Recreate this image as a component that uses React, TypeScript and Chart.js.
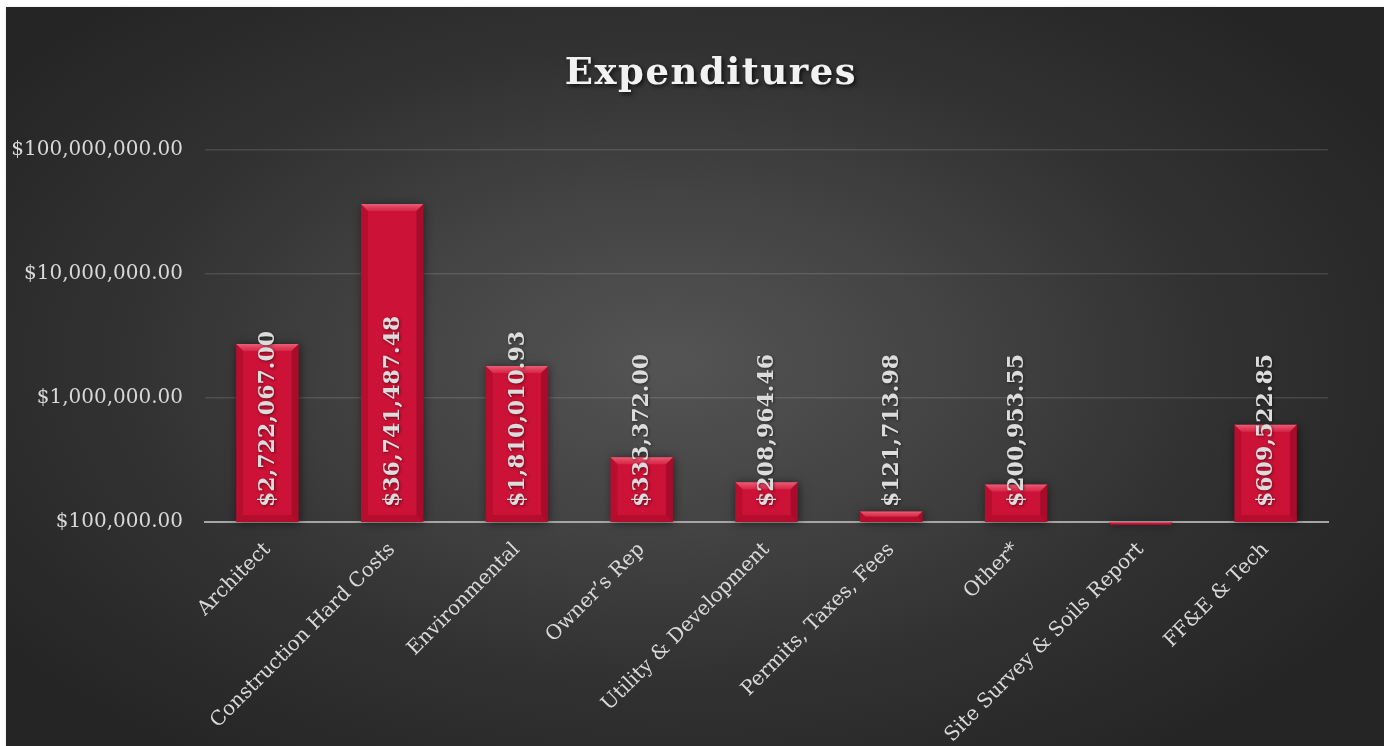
import React, { useEffect, useRef } from "react";
import { Chart, registerables } from "chart.js";

Chart.register(...registerables);

const categories = [
  "Architect",
  "Construction Hard Costs",
  "Environmental",
  "Owner’s Rep",
  "Utility & Development",
  "Permits, Taxes, Fees",
  "Other*",
  "Site Survey & Soils Report",
  "FF&E & Tech",
];
const expenditures = [
  2722067.0, 36741487.48, 1810010.93, 333372.0, 208964.46, 121713.98,
  200953.55, 95000, 609522.85,
];
const yTicks = [100000, 1000000, 10000000, 100000000];
const chartTitle = "Expenditures";

const W = 1378;
const H = 739;
const FONT = "'DejaVu Serif', serif";

const money = (v: number) =>
  "$" +
  v.toLocaleString("en-US", {
    minimumFractionDigits: 2,
    maximumFractionDigits: 2,
  });

const shadowPlugin = {
  id: "barShadow",
  beforeDatasetsDraw(chart: any) {
    const ctx = chart.ctx;
    ctx.save();
    ctx.shadowColor = "rgba(0,0,0,0.55)";
    ctx.shadowBlur = 9;
    ctx.shadowOffsetX = 1;
    ctx.shadowOffsetY = 1;
  },
  afterDatasetsDraw(chart: any) {
    chart.ctx.restore();
  },
};

const bevelPlugin = {
  id: "bevelAndLabels",
  afterDatasetsDraw(chart: any) {
    const ctx = chart.ctx;
    const meta = chart.getDatasetMeta(0);
    const yScale = chart.scales.y;
    const ds = chart.data.datasets[0].data as number[];
    meta.data.forEach((el: any, i: number) => {
      const p = el.getProps(["x", "y", "base", "width"], true);
      const l = p.x - p.width / 2;
      const r = p.x + p.width / 2;
      const t = Math.min(p.y, p.base);
      const b = Math.max(p.y, p.base);
      const h = b - t;
      const bv = Math.min(7, h / 2);
      ctx.save();
      // top bevel
      const g = ctx.createLinearGradient(0, t, 0, t + bv);
      g.addColorStop(0, "rgba(245,120,140,0.75)");
      g.addColorStop(1, "rgba(235,80,105,0.35)");
      ctx.beginPath();
      ctx.moveTo(l, t);
      ctx.lineTo(r, t);
      ctx.lineTo(r - bv, t + bv);
      ctx.lineTo(l + bv, t + bv);
      ctx.closePath();
      ctx.fillStyle = g;
      ctx.fill();
      // bottom bevel
      ctx.beginPath();
      ctx.moveTo(l, b);
      ctx.lineTo(r, b);
      ctx.lineTo(r - bv, b - bv);
      ctx.lineTo(l + bv, b - bv);
      ctx.closePath();
      ctx.fillStyle = "rgba(120,0,20,0.25)";
      ctx.fill();
      // left bevel
      ctx.beginPath();
      ctx.moveTo(l, t);
      ctx.lineTo(l + bv, t + bv);
      ctx.lineTo(l + bv, b - bv);
      ctx.lineTo(l, b);
      ctx.closePath();
      ctx.fillStyle = "rgba(110,0,20,0.22)";
      ctx.fill();
      // right bevel
      ctx.beginPath();
      ctx.moveTo(r, t);
      ctx.lineTo(r - bv, t + bv);
      ctx.lineTo(r - bv, b - bv);
      ctx.lineTo(r, b);
      ctx.closePath();
      ctx.fillStyle = "rgba(90,0,15,0.3)";
      ctx.fill();
      ctx.restore();

      const v = ds[i];
      if (v >= yScale.min) {
        ctx.save();
        ctx.translate(p.x + 1, yScale.bottom - 15);
        ctx.rotate(-Math.PI / 2);
        ctx.font = `bold 22px ${FONT}`;
        ctx.textAlign = "left";
        ctx.textBaseline = "middle";
        ctx.fillStyle = "#dcdcdc";
        ctx.shadowColor = "rgba(0,0,0,0.5)";
        ctx.shadowBlur = 3;
        ctx.shadowOffsetX = 1;
        ctx.shadowOffsetY = 1;
        ctx.fillText(money(v), 0, 0);
        ctx.restore();
      }
    });
  },
};

const titlePlugin = {
  id: "customTitle",
  afterDraw(chart: any) {
    const ctx = chart.ctx;
    ctx.save();
    ctx.font = `bold 37px ${FONT}`;
    (ctx as any).letterSpacing = "1.5px";
    ctx.textAlign = "center";
    ctx.textBaseline = "alphabetic";
    ctx.fillStyle = "#f2f2f2";
    ctx.shadowColor = "rgba(0,0,0,0.7)";
    ctx.shadowBlur = 4;
    ctx.shadowOffsetX = 2;
    ctx.shadowOffsetY = 2;
    ctx.fillText(chartTitle, 705, 77);
    ctx.restore();
  },
};

export default function App() {
  const ref = useRef<HTMLCanvasElement | null>(null);
  useEffect(() => {
    if (!ref.current) return;
    const chart = new Chart(ref.current, {
      type: "bar",
      data: {
        labels: categories,
        datasets: [
          {
            data: expenditures,
            backgroundColor: "#CC1236",
            borderWidth: 0,
            barPercentage: 0.5,
            categoryPercentage: 1,
            clip: false as any,
          },
        ],
      },
      options: {
        animation: false,
        responsive: false,
        devicePixelRatio: 1,
        layout: { padding: { top: 143, right: 56, left: 0, bottom: 0 } },
        plugins: {
          legend: { display: false },
          title: { display: false },
          tooltip: { enabled: false },
        },
        scales: {
          x: {
            grid: { display: false },
            border: { display: true, color: "#a6a6a6", width: 2 },
            ticks: {
              color: "#d9d9d9",
              font: { family: FONT, size: 20 },
              maxRotation: 45,
              minRotation: 45,
              autoSkip: false,
              padding: 8,
            },
            afterFit: (s: any) => {
              s.height = 224;
            },
          },
          y: {
            type: "logarithmic",
            min: 100000,
            max: 100000000,
            grid: {
              color: "rgba(255,255,255,0.12)",
              lineWidth: 1.5,
              drawTicks: false,
            },
            border: { display: false },
            afterBuildTicks: (s: any) => {
              s.ticks = yTicks.map((v) => ({ value: v }));
            },
            ticks: {
              color: "#d9d9d9",
              font: { family: FONT, size: 20 },
              padding: 22,
              callback: (v: any) => money(Number(v)),
            },
            afterFit: (s: any) => {
              s.width = 199;
            },
          },
        },
      },
      plugins: [shadowPlugin, bevelPlugin, titlePlugin],
    });
    return () => chart.destroy();
  }, []);

  return (
    <div
      style={{
        position: "absolute",
        left: 6,
        top: 7,
        width: W,
        height: H,
        background:
          "radial-gradient(ellipse 60% 65% at 48% 48%, #545454 0%, #434343 35%, #323232 65%, #252525 100%)",
        boxShadow: "2px 2px 4px rgba(0,0,0,0.4)",
      }}
    >
      <canvas ref={ref} width={W} height={H} style={{ display: "block" }} />
    </div>
  );
}
